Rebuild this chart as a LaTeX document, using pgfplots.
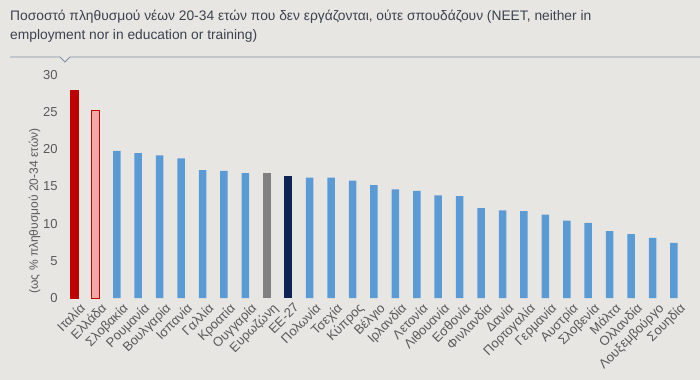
\documentclass[border=0pt]{standalone}
\usepackage{fontspec}
\setmainfont{Liberation Sans}
\usepackage{pgfplots}
\pgfplotsset{compat=1.18}
\definecolor{bg}{HTML}{E8E6E2}
\definecolor{barblue}{HTML}{5B9BD5}
\definecolor{italred}{HTML}{C00000}
\definecolor{grpink}{HTML}{F4A7A7}
\definecolor{euzgray}{HTML}{808080}
\definecolor{eunavy}{HTML}{0E2454}
\definecolor{txt}{HTML}{595959}
\definecolor{ttl}{HTML}{3B4250}
\definecolor{rule}{HTML}{7E90A8}
\begin{document}
\begin{tikzpicture}
\fill[bg] (0bp,0bp) rectangle (700bp,380bp);
\useasboundingbox (0bp,0bp) rectangle (700bp,380bp);
\node[anchor=north west, align=left, text=ttl, font=\fontsize{13.8bp}{19bp}\selectfont, inner sep=0pt] at (10bp,370bp)
  {Ποσοστό πληθυσμού νέων 20-34 ετών που δεν εργάζονται, ούτε σπουδάζουν (NEET, neither in\\employment nor in education or training)};
\draw[rule, line width=0.8bp] (10bp,323bp) -- (60bp,323bp) -- (65bp,318bp) -- (70bp,323bp) -- (700bp,323bp);
\begin{axis}[
  at={(61.1bp,82bp)}, anchor=south west,
  scale only axis, width=625.7bp, height=223bp,
  xmin=-0.6, xmax=28.6, ymin=0, ymax=30,
  axis line style={draw=none}, major tick length=0pt,
  ytick={0,5,...,30},
  /pgf/number format/assume math mode=true,
  yticklabel style={font=\fontsize{13bp}{15bp}\selectfont, text=txt},
  ylabel={(ως \% πληθυσμού 20-34 ετών)},
  ylabel style={at={(ticklabel cs:0.39)}, font=\fontsize{12bp}{14bp}\selectfont, text=txt, yshift=-4bp},
  xtick={0,...,28},
  xticklabels={Ιταλία,Ελλάδα,Σλοβακία,Ρουμανία,Βουλγαρία,Ισπανία,Γαλλία,Κροατία,Ουγγαρία,Ευρωζώνη,ΕΕ-27,Πολωνία,Τσεχία,Κύπρος,Βέλγιο,Ιρλανδία,Λετονία,Λιθουανία,Εσθονία,Φινλανδία,Δανία,Πορτογαλία,Γερμανία,Αυστρία,Σλοβενία,Μάλτα,Ολλανδία,Λουξεμβούργο,Σουηδία},
  xticklabel style={rotate=45, anchor=north east, font=\fontsize{13bp}{15bp}\selectfont, text=txt, xshift=4bp, yshift=-3bp},
  ybar, bar width=7.5bp, bar shift=0pt,
  clip=false,
]
\addplot[fill=italred, draw=italred] coordinates {(0,28.0)};
\addplot[fill=grpink, draw=italred, line width=0.8bp] coordinates {(1,25.2)};
\addplot[fill=barblue, draw=none] coordinates {
 (2,19.8) (3,19.5) (4,19.2) (5,18.8) (6,17.2) (7,17.1) (8,16.8)
 (11,16.2) (12,16.2) (13,15.8) (14,15.2) (15,14.6) (16,14.4) (17,13.8) (18,13.7)
 (19,12.1) (20,11.8) (21,11.7) (22,11.2) (23,10.4) (24,10.1) (25,9.0) (26,8.6) (27,8.1) (28,7.4)};
\addplot[fill=euzgray, draw=none] coordinates {(9,16.8)};
\addplot[fill=eunavy, draw=none] coordinates {(10,16.4)};
\end{axis}
\end{tikzpicture}
\end{document}
